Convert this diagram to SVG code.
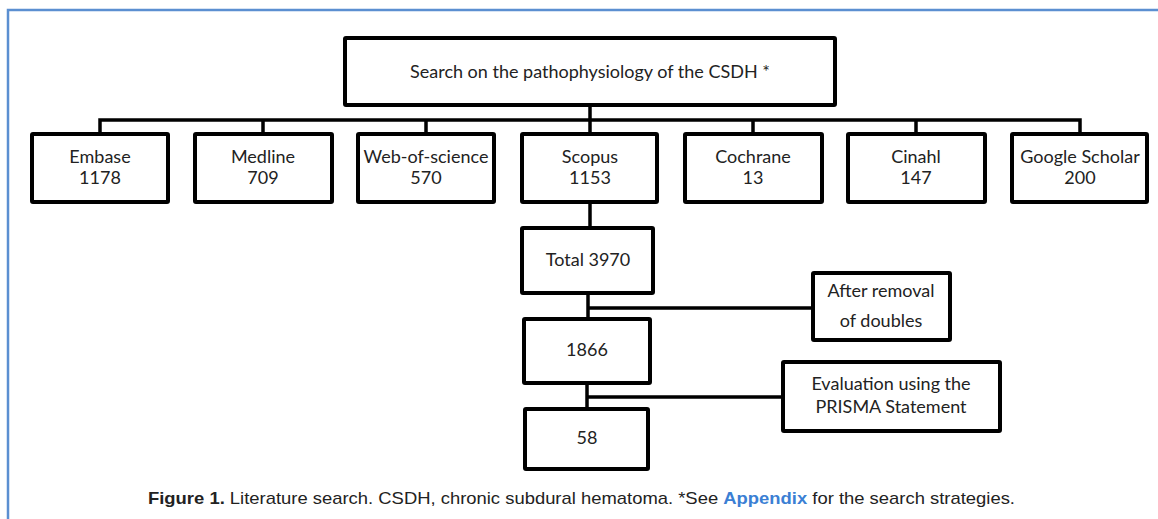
<svg xmlns="http://www.w3.org/2000/svg" width="1158" height="519" viewBox="0 0 1158 519">
<style>
.box{fill:#fff;stroke:#000;stroke-width:4;}
.ln{fill:none;stroke:#000;stroke-width:3.5;}
.t{font-family:Lato,"Open Sans","Liberation Sans",sans-serif;font-size:18px;fill:#222;text-anchor:middle;}
.cap{font-family:"Liberation Sans Narrow","Liberation Sans",Arial,sans-serif;font-size:17px;fill:#222;}
</style>
<rect width="1158" height="519" fill="#fff"/>
<g id="frame">
<path d="M8 519 V10 H1158" fill="none" stroke="#5b8fd1" stroke-width="2.5"/>
</g>
<g id="connectors">
<path class="ln" d="M590 105 V120 M100 134 V120 H1080 V134 M263 120 V134 M426 120 V134 M590 120 V134 M753 120 V134 M916 120 V134"/>
<path class="ln" d="M590 202 V228"/>
<path class="ln" d="M588 293 V319 M588 308 H813"/>
<path class="ln" d="M587 383 V409 M587 397 H783"/>
</g>
<g id="search">
<rect class="box" x="345" y="38" width="490" height="67" rx="1"/>
<text class="t" x="590" y="78">Search on the pathophysiology of the CSDH *</text>
</g>
<g id="embase">
<rect class="box" x="32" y="134" width="136" height="68" rx="1"/>
<text class="t" x="100" y="163">Embase</text><text class="t" x="100" y="184">1178</text>
</g>
<g id="medline">
<rect class="box" x="195" y="134" width="137" height="68" rx="1"/>
<text class="t" x="263" y="163">Medline</text><text class="t" x="263" y="184">709</text>
</g>
<g id="wos">
<rect class="box" x="358" y="134" width="136" height="68" rx="1"/>
<text class="t" x="426" y="163">Web-of-science</text><text class="t" x="426" y="184">570</text>
</g>
<g id="scopus">
<rect class="box" x="522" y="134" width="135" height="68" rx="1"/>
<text class="t" x="590" y="163">Scopus</text><text class="t" x="590" y="184">1153</text>
</g>
<g id="cochrane">
<rect class="box" x="685" y="134" width="137" height="68" rx="1"/>
<text class="t" x="753" y="163">Cochrane</text><text class="t" x="753" y="184">13</text>
</g>
<g id="cinahl">
<rect class="box" x="848" y="134" width="137" height="68" rx="1"/>
<text class="t" x="916" y="163">Cinahl</text><text class="t" x="916" y="184">147</text>
</g>
<g id="google">
<rect class="box" x="1012" y="134" width="135" height="68" rx="1"/>
<text class="t" x="1080" y="163">Google Scholar</text><text class="t" x="1080" y="184">200</text>
</g>
<g id="total">
<rect class="box" x="522" y="228" width="131" height="65" rx="1"/>
<text class="t" x="588" y="266">Total 3970</text>
</g>
<g id="removal">
<rect class="box" x="813" y="273" width="137" height="67" rx="1"/>
<text class="t" x="881" y="297">After removal</text><text class="t" x="881" y="327">of doubles</text>
</g>
<g id="n1866">
<rect class="box" x="524" y="319" width="126" height="64" rx="1"/>
<text class="t" x="587" y="356">1866</text>
</g>
<g id="prisma">
<rect class="box" x="783" y="362" width="217" height="69" rx="1"/>
<text class="t" x="891" y="390">Evaluation using the</text><text class="t" x="891" y="413">PRISMA Statement</text>
</g>
<g id="n58">
<rect class="box" x="525" y="409" width="123" height="60" rx="1"/>
<text class="t" x="587" y="444">58</text>
</g>
<g id="caption">
<text class="cap" x="148" y="504" textLength="867" lengthAdjust="spacingAndGlyphs"><tspan font-weight="bold">Figure 1.</tspan>  Literature search. CSDH, chronic subdural hematoma. *See <tspan font-weight="bold" fill="#3b7fd4">Appendix</tspan> for the search strategies.</text>
</g>
</svg>
